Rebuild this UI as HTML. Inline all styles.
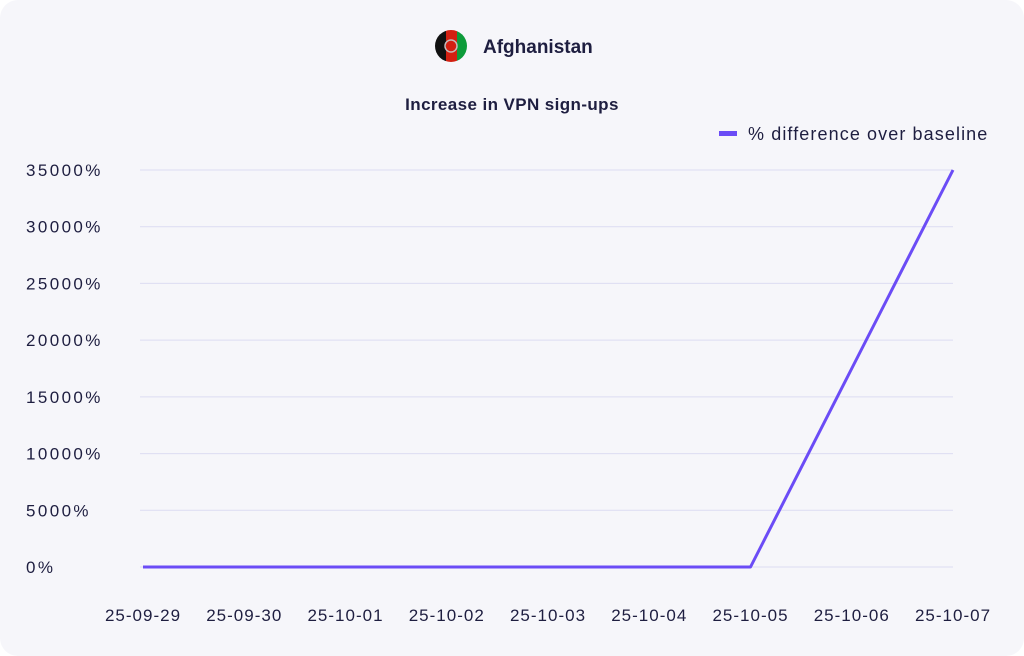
<!DOCTYPE html>
<html><head><meta charset="utf-8">
<style>
html,body{margin:0;padding:0;width:1024px;height:656px;background:#fff;overflow:hidden}
.card{position:absolute;left:0;top:0;width:1024px;height:656px;border-radius:18px;background:#f6f6fa}
svg{position:absolute;left:0;top:0}
text{font-family:"Liberation Sans",sans-serif;fill:#1e1e40}
</style></head><body>
<div class="card"></div>
<svg width="1024" height="656">
  <g>
    <clipPath id="fc"><circle cx="451" cy="46" r="16"/></clipPath>
    <g clip-path="url(#fc)">
      <rect x="435" y="30" width="11" height="32" fill="#111"/>
      <rect x="446" y="30" width="11" height="32" fill="#d32011"/>
      <rect x="457" y="30" width="11" height="32" fill="#0d9b3a"/>
      <circle cx="451" cy="46" r="6" fill="none" stroke="#c9b9b9" stroke-width="1.5"/>
    </g>
  </g>
  <text x="483" y="53" font-size="19" font-weight="bold">Afghanistan</text>
  <text x="512" y="110" font-size="17" font-weight="bold" letter-spacing="0.4" text-anchor="middle">Increase in VPN sign-ups</text>
  <g>
    <rect x="719" y="131" width="18" height="5" fill="#6b4cf6"/>
    <text x="748" y="140" font-size="18" letter-spacing="1.1" fill="#2a2a48">% difference over baseline</text>
  </g>
  <g id="grid"></g><g id="yt"></g><g id="xt"></g><g id="ln"></g>
</svg>
<script>
const categories=["25-09-29","25-09-30","25-10-01","25-10-02","25-10-03","25-10-04","25-10-05","25-10-06","25-10-07"];
const values=[0,0,0,0,0,0,0,17500,35000];
const yTicks=[0,5000,10000,15000,20000,25000,30000,35000];
const yTickLabels=["0%","5000%","10000%","15000%","20000%","25000%","30000%","35000%"];
const NS="http://www.w3.org/2000/svg";
function x(i){return 143+i*(953-143)/(categories.length-1);}
function y(v){return 567-v*(567-170)/35000;}
function mk(t,a,p){const e=document.createElementNS(NS,t);for(const k in a)e.setAttribute(k,a[k]);p.appendChild(e);return e;}
const g=document.getElementById('grid'),yt=document.getElementById('yt'),xt=document.getElementById('xt'),ln=document.getElementById('ln');
yTicks.forEach((v,i)=>{
  const l=mk('line',{x1:140,x2:953,y1:y(v),y2:y(v),stroke:'#dcdcf2','stroke-width':1},g);
  
  
  const t=mk('text',{x:26,y:y(v)+6,'font-size':17,'letter-spacing':2.4,fill:'#2a2a48'},yt);
  t.textContent=yTickLabels[i];
  
  
});
categories.forEach((c,i)=>{
  const t=mk('text',{x:x(i),y:621,'font-size':17,'letter-spacing':1,'text-anchor':'middle',fill:'#2a2a48'},xt);
  t.textContent=c;
  
  
});
const p=mk('polyline',{points:values.map((v,i)=>x(i)+','+y(v)).join(' '),fill:'none',stroke:'#6b4cf6','stroke-width':3,'stroke-linejoin':'round'},ln);


</script>
</body></html>
